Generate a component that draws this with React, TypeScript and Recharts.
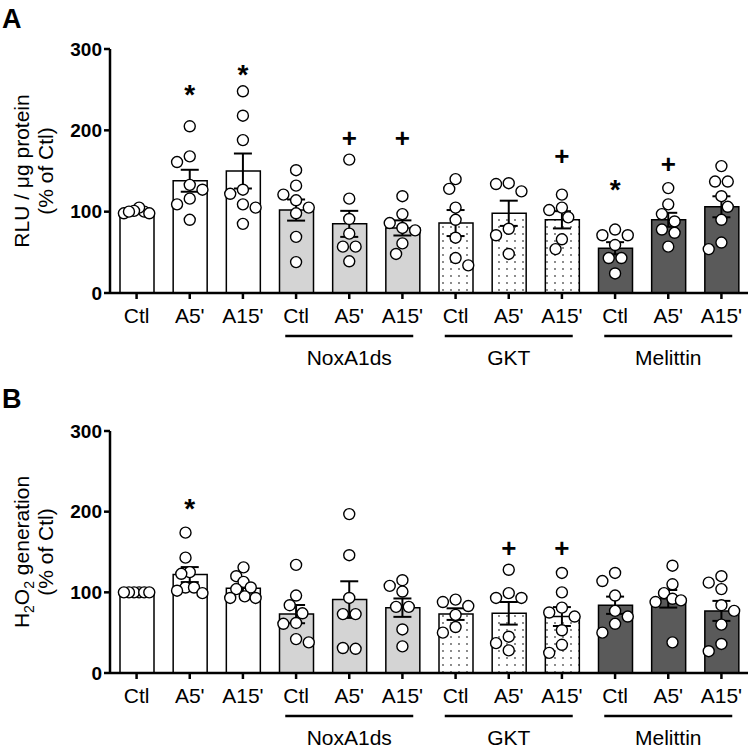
import React from "react";
import { ComposedChart, Bar, Cell, XAxis, YAxis, Scatter, ErrorBar } from "recharts";

const FONT = "'Liberation Sans', Arial, Helvetica, sans-serif";

// categories: 4 groups x 3 treatments
const treatments = ["Ctl", "A5'", "A15'"];
const groups = ["", "NoxA1ds", "GKT", "Melittin"];
const groupFills = ["#ffffff", "#d4d4d4", "url(#gktDots)", "#5a5a5a"];
const yTicks = [0, 100, 200, 300];

// panel A: RLU / µg protein (% of Ctl)
const meanA = [100, 138, 150, 102, 85, 80, 86, 98, 90, 55, 90, 106];
const semA = [1.2, 13.5, 21.5, 13, 16, 9.3, 16, 15.5, 10.6, 7.5, 8.6, 12.9];
const dotsA = [
  [100, 105, 98, 98, 101, 100],
  [205, 168, 161, 133, 127, 116, 109, 90],
  [248, 218, 188, 127, 122, 109, 105, 85],
  [151, 132, 121, 114, 105, 98, 69, 38],
  [164, 116, 91, 73, 57, 57, 39],
  [119, 97, 86, 80, 77, 61, 48],
  [140, 128, 105, 90, 68, 43, 34],
  [135, 134, 125, 79, 71, 48],
  [121, 105, 102, 93, 66, 54],
  [78, 71, 71, 59, 43, 43, 24],
  [129, 109, 97, 88, 78, 74, 57],
  [156, 137, 137, 119, 106, 90, 62, 54],
];
const sigA = ["", "*", "*", "", "+", "+", "", "", "+", "*", "+", ""];
const sigAtA = [null, 252, 277, null, 190, 190, null, null, 168, 135, 159, null];

// panel B: H2O2 generation (% of Ctl)
const meanB = [100, 122, 105, 73, 91, 81, 73, 74, 70, 84, 92, 77];
const semB = [0, 9.3, 5, 11.3, 22.7, 11.4, 7.2, 14, 11.7, 10.7, 10.9, 12.4];
const dotsB = [
  [100, 100, 100, 100, 100, 100],
  [174, 143, 125, 123, 106, 106, 102, 99],
  [131, 120, 113, 106, 104, 95, 93, 93],
  [134, 96, 84, 74, 62, 61, 42, 38],
  [197, 146, 93, 73, 73, 31, 30],
  [115, 108, 101, 82, 82, 54, 33],
  [91, 88, 83, 72, 57, 50],
  [128, 99, 93, 93, 45, 37, 28],
  [124, 100, 81, 75, 70, 53, 35, 25],
  [124, 114, 96, 77, 70, 61, 50],
  [133, 110, 99, 92, 90, 88, 38],
  [120, 112, 104, 84, 77, 60, 36, 27],
];
const sigB = ["", "*", "", "", "", "", "", "+", "+", "", "", ""];
const sigAtB = [null, 212, null, null, null, null, null, 155, 155, null, null, null];

const CAT_W = 638 / 12;
const COL_PX = 12.7;
const DOT_R = 5.5;

// simple beeswarm: returns column offsets (in columns) for each value
function swarm(values: number[], ppu: number): number[] {
  const n = values.length;
  const order = values.map((_, i) => i).sort((a, b) => values[b] - values[a]);
  const cols = new Array(n).fill(0);
  const ys = values.map((v) => v * ppu);
  const done: number[] = [];
  const minD = 2 * DOT_R;
  const fits = (i: number, c: number) =>
    done.every((j) => Math.hypot((cols[j] - c) * COL_PX, ys[j] - ys[i]) >= minD);
  let side = -1;
  for (const i of order) {
    let c = 0;
    if (!fits(i, 0)) {
      for (let k = 0.5; k < 8; k += 0.5) {
        if (fits(i, side * k)) { c = side * k; side = -side; break; }
        if (fits(i, -side * k)) { c = -side * k; break; }
      }
    }
    cols[i] = c;
    done.push(i);
  }
  // centre dots sharing a row
  const seen = new Set<number>();
  for (const i of order) {
    if (seen.has(i)) continue;
    const row = order.filter((j) => Math.abs(ys[j] - ys[i]) < 3);
    row.forEach((j) => seen.add(j));
    if (row.length < 2) continue;
    const shift = -row.reduce((s, j) => s + cols[j], 0) / row.length;
    const old = row.map((j) => cols[j]);
    row.forEach((j) => (cols[j] += shift));
    const ok = row.every((j) =>
      done.every((k) => row.includes(k) || Math.hypot((cols[k] - cols[j]) * COL_PX, ys[k] - ys[j]) >= minD)
    );
    if (!ok) row.forEach((j, t) => (cols[j] = old[t]));
  }
  const lo = Math.min(...cols);
  const hi = Math.max(...cols);
  if (hi - lo > 2) {
    const mid = (hi + lo) / 2;
    const s = 2 / (hi - lo);
    for (let i = 0; i < n; i++) cols[i] = (cols[i] - mid) * s;
  }
  return cols;
}

const XTick = (props: any) => {
  const { x, y, payload } = props;
  const i = Number(String(payload.value).slice(1));
  const g = Math.floor(i / 3);
  const isMid = i % 3 === 1 && groups[g] !== "";
  return (
    <g>
      <text x={x} y={y + 24} textAnchor="middle" fontSize={21} fontFamily={FONT} fill="#000">
        {treatments[i % 3]}
      </text>
      {isMid && (
        <>
          <line x1={x - 64} x2={x + 64} y1={y + 37} y2={y + 37} stroke="#000" strokeWidth={2.5} />
          <text x={x} y={y + 66} textAnchor="middle" fontSize={21} fontFamily={FONT} fill="#000">
            {groups[g]}
          </text>
        </>
      )}
    </g>
  );
};

const DotShape = (p: any) => (
  <circle cx={p.cx} cy={p.cy} r={DOT_R} fill="#fff" stroke="#000" strokeWidth={1.4} />
);

const SigShape = (p: any) => {
  const star = p.payload.s === "*";
  return (
    <text
      x={p.cx}
      y={p.cy + (star ? 16 : 9)}
      textAnchor="middle"
      fontSize={star ? 28 : 26}
      fontWeight="bold"
      fontFamily={FONT}
      fill="#000"
    >
      {p.payload.s}
    </text>
  );
};

interface PanelProps {
  mean: number[];
  sem: number[];
  dots: number[][];
  sig: string[];
  sigAt: (number | null)[];
  height: number;
  marginTop: number;
  axisH: number;
}

function Panel({ mean, sem, dots, sig, sigAt, height, marginTop, axisH }: PanelProps) {
  const rows = mean.map((m, i) => ({ id: `c${i}`, mean: m }));
  const ppu = (height - marginTop - axisH) / 300;
  const dotData = dots.flatMap((vals, i) => {
    const cols = swarm(vals, ppu);
    return vals.map((v, k) => ({ x: i + (cols[k] * COL_PX) / CAT_W, y: v }));
  });
  const errData = mean.map((m, i) => ({ x: i, y: m, sem: sem[i] }));
  const sigData = sig
    .map((s, i) => ({ x: i, y: sigAt[i], s }))
    .filter((d) => d.s !== "");
  const axisStyle = { stroke: "#000", strokeWidth: 2.5 };

  return (
    <ComposedChart width={751} height={height} data={rows} margin={{ top: marginTop, right: 3, bottom: 0, left: 50 }}>
      <XAxis
        xAxisId="cat"
        dataKey="id"
        type="category"
        height={axisH}
        interval={0}
        tickSize={6}
        tickMargin={0}
        tick={<XTick />}
        axisLine={axisStyle}
        tickLine={axisStyle}
      />
      <XAxis xAxisId="num" type="number" dataKey="x" domain={[-0.5, 11.5]} hide allowDataOverflow />
      <YAxis
        domain={[0, 300]}
        ticks={yTicks}
        width={60}
        tickSize={6}
        tickMargin={2}
        interval={0}
        axisLine={axisStyle}
        tickLine={axisStyle}
        tick={{ fill: "#000", fontSize: 19, fontWeight: "bold", fontFamily: FONT }}
      />
      <Bar xAxisId="cat" dataKey="mean" barSize={34} stroke="#000" strokeWidth={1.5} isAnimationActive={false}>
        {rows.map((r, i) => (
          <Cell key={r.id} fill={groupFills[Math.floor(i / 3)]} />
        ))}
      </Bar>
      <Scatter xAxisId="num" data={dotData} dataKey="y" shape={DotShape} isAnimationActive={false} />
      <Scatter xAxisId="num" data={errData} dataKey="y" shape={() => <g />} isAnimationActive={false}>
        <ErrorBar dataKey="sem" direction="y" width={9} stroke="#000" strokeWidth={2} isAnimationActive={false} />
      </Scatter>
      <Scatter xAxisId="num" data={sigData} dataKey="y" shape={SigShape} isAnimationActive={false} />
    </ComposedChart>
  );
}

export default function App() {
  return (
    <div style={{ position: "absolute", left: 0, top: 0, width: 751, height: 748, background: "#fff", fontFamily: FONT }}>
      <svg width={0} height={0} style={{ position: "absolute" }}>
        <defs>
          <pattern id="gktDots" width={8} height={7} patternUnits="userSpaceOnUse">
            <rect width={8} height={7} fill="#fff" />
            <circle cx={3} cy={3} r={0.9} fill="#555" />
          </pattern>
        </defs>
      </svg>
      <div style={{ position: "absolute", left: 0, top: 0 }}>
        <Panel mean={meanA} sem={semA} dots={dotsA} sig={sigA} sigAt={sigAtA} height={375} marginTop={49} axisH={82} />
      </div>
      <div style={{ position: "absolute", left: 0, top: 375 }}>
        <Panel mean={meanB} sem={semB} dots={dotsB} sig={sigB} sigAt={sigAtB} height={373} marginTop={56} axisH={75} />
      </div>
      <svg width={751} height={748} style={{ position: "absolute", left: 0, top: 0, pointerEvents: "none" }}>
        <g fontFamily={FONT} fill="#000">
          <text x={2} y={28} fontSize={27} fontWeight="bold">A</text>
          <text x={2} y={408} fontSize={27} fontWeight="bold">B</text>
          <text transform="translate(29,171) rotate(-90)" textAnchor="middle" fontSize={21}>RLU / μg protein</text>
          <text transform="translate(53,171) rotate(-90)" textAnchor="middle" fontSize={21}>(% of Ctl)</text>
          <text transform="translate(29,552) rotate(-90)" textAnchor="middle" fontSize={21}>
            H<tspan fontSize={14} dy={5}>2</tspan>
            <tspan dy={-5}>O</tspan>
            <tspan fontSize={14} dy={5}>2</tspan>
            <tspan dy={-5}> generation</tspan>
          </text>
          <text transform="translate(53,552) rotate(-90)" textAnchor="middle" fontSize={21}>(% of Ctl)</text>
        </g>
      </svg>
    </div>
  );
}
